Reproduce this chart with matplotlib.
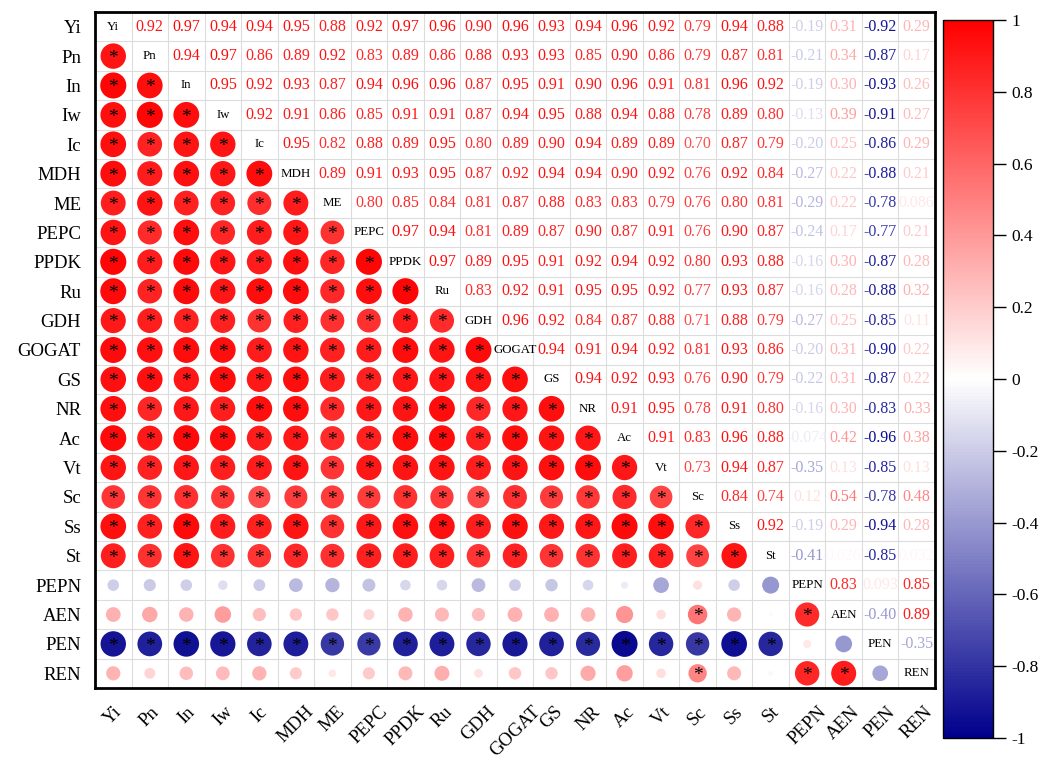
import numpy as np
import matplotlib
matplotlib.use("Agg")
import matplotlib.pyplot as plt
from matplotlib.colors import LinearSegmentedColormap, Normalize

plt.rcParams["font.family"] = ["Liberation Serif", "DejaVu Serif"]

variables = ["Yi", "Pn", "In", "Iw", "Ic", "MDH", "ME", "PEPC", "PPDK", "Ru", "GDH",
             "GOGAT", "GS", "NR", "Ac", "Vt", "Sc", "Ss", "St", "PEPN", "AEN", "PEN", "REN"]

# upper-triangle Pearson r, row i holds r(i, j) for j > i
r_Yi = [0.92, 0.97, 0.94, 0.94, 0.95, 0.88, 0.92, 0.97, 0.96, 0.90, 0.96, 0.93, 0.94, 0.96, 0.92, 0.79, 0.94, 0.88, -0.19, 0.31, -0.92, 0.29]
r_Pn = [0.94, 0.97, 0.86, 0.89, 0.92, 0.83, 0.89, 0.86, 0.88, 0.93, 0.93, 0.85, 0.90, 0.86, 0.79, 0.87, 0.81, -0.21, 0.34, -0.87, 0.17]
r_In = [0.95, 0.92, 0.93, 0.87, 0.94, 0.96, 0.96, 0.87, 0.95, 0.91, 0.90, 0.96, 0.91, 0.81, 0.96, 0.92, -0.19, 0.30, -0.93, 0.26]
r_Iw = [0.92, 0.91, 0.86, 0.85, 0.91, 0.91, 0.87, 0.94, 0.95, 0.88, 0.94, 0.88, 0.78, 0.89, 0.80, -0.13, 0.39, -0.91, 0.27]
r_Ic = [0.95, 0.82, 0.88, 0.89, 0.95, 0.80, 0.89, 0.90, 0.94, 0.89, 0.89, 0.70, 0.87, 0.79, -0.20, 0.25, -0.86, 0.29]
r_MDH = [0.89, 0.91, 0.93, 0.95, 0.87, 0.92, 0.94, 0.94, 0.90, 0.92, 0.76, 0.92, 0.84, -0.27, 0.22, -0.88, 0.21]
r_ME = [0.80, 0.85, 0.84, 0.81, 0.87, 0.88, 0.83, 0.83, 0.79, 0.76, 0.80, 0.81, -0.29, 0.22, -0.78, 0.086]
r_PEPC = [0.97, 0.94, 0.81, 0.89, 0.87, 0.90, 0.87, 0.91, 0.76, 0.90, 0.87, -0.24, 0.17, -0.77, 0.21]
r_PPDK = [0.97, 0.89, 0.95, 0.91, 0.92, 0.94, 0.92, 0.80, 0.93, 0.88, -0.16, 0.30, -0.87, 0.28]
r_Ru = [0.83, 0.92, 0.91, 0.95, 0.95, 0.92, 0.77, 0.93, 0.87, -0.16, 0.28, -0.88, 0.32]
r_GDH = [0.96, 0.92, 0.84, 0.87, 0.88, 0.71, 0.88, 0.79, -0.27, 0.25, -0.85, 0.11]
r_GOGAT = [0.94, 0.91, 0.94, 0.92, 0.81, 0.93, 0.86, -0.20, 0.31, -0.90, 0.22]
r_GS = [0.94, 0.92, 0.93, 0.76, 0.90, 0.79, -0.22, 0.31, -0.87, 0.22]
r_NR = [0.91, 0.95, 0.78, 0.91, 0.80, -0.16, 0.30, -0.83, 0.33]
r_Ac = [0.91, 0.83, 0.96, 0.88, -0.074, 0.42, -0.96, 0.38]
r_Vt = [0.73, 0.94, 0.87, -0.35, 0.13, -0.85, 0.13]
r_Sc = [0.84, 0.74, 0.12, 0.54, -0.78, 0.48]
r_Ss = [0.92, -0.19, 0.29, -0.94, 0.28]
r_St = [-0.41, 0.026, -0.85, 0.032]
r_PEPN = [0.83, 0.093, 0.85]
r_AEN = [-0.40, 0.89]
r_PEN = [-0.35]

upper_rows = [r_Yi, r_Pn, r_In, r_Iw, r_Ic, r_MDH, r_ME, r_PEPC, r_PPDK, r_Ru, r_GDH,
              r_GOGAT, r_GS, r_NR, r_Ac, r_Vt, r_Sc, r_Ss, r_St, r_PEPN, r_AEN, r_PEN]

R_CRIT = 0.444  # |r| above this is significant at p < 0.05

n = len(variables)
corr = np.eye(n)
for i, row in enumerate(upper_rows):
    for k, v in enumerate(row):
        j = i + 1 + k
        corr[i, j] = corr[j, i] = v

cmap = LinearSegmentedColormap.from_list("bwr_corr", ["#00008C", "#FFFFFF", "#FF0000"])
norm = Normalize(-1, 1)

fig = plt.figure(figsize=(10.57, 7.61), dpi=100)
ax = fig.add_axes([95 / 1057, 1 - 688 / 761, 840 / 1057, 676 / 761])
cax = fig.add_axes([943 / 1057, 1 - 738 / 761, 50 / 1057, 718 / 761])

# lower triangle: circles, area ~ |r|
ii, jj = np.tril_indices(n, -1)
vals = corr[ii, jj]
ax.scatter(jj, ii, s=364 * np.abs(vals), c=vals, cmap=cmap, norm=norm,
           linewidths=0, zorder=3)
for i, j, v in zip(ii, jj, vals):
    if abs(v) >= R_CRIT:
        ax.text(j, i + 0.08, "*", ha="center", va="center", fontsize=14,
                color="black", zorder=4)

# upper triangle: coefficients, diagonal: names
for i in range(n):
    ax.text(i, i, variables[i], ha="center", va="center", fontsize=9.3, zorder=4)
    for j in range(i + 1, n):
        v = corr[i, j]
        ax.text(j, i, f"{v:.2f}" if abs(v) >= 0.1 else f"{v:.2g}",
                ha="center", va="center", fontsize=11.5, color=cmap(norm(v)), zorder=4)

ax.set_xlim(-0.5, n - 0.5)
ax.set_ylim(n - 0.5, -0.5)
ax.set_xticks(range(n))
ax.set_yticks(range(n))
ax.set_xticklabels(variables, rotation=45, ha="center", va="top", fontsize=13.5)
ax.set_yticklabels(variables, fontsize=13.5)
ax.tick_params(axis="both", which="major", length=0)
ax.tick_params(axis="x", pad=11)
ax.tick_params(axis="y", pad=10)
ax.set_xticks(np.arange(-0.5, n, 1), minor=True)
ax.set_yticks(np.arange(-0.5, n, 1), minor=True)
ax.tick_params(which="minor", length=0)
ax.grid(which="minor", color="#dcdcdc", lw=0.8)
for sp in ax.spines.values():
    sp.set_linewidth(2)

sm = plt.cm.ScalarMappable(norm=norm, cmap=cmap)
cb = fig.colorbar(sm, cax=cax)
ticks = np.round(np.arange(-1, 1.01, 0.2), 1)
cb.set_ticks(ticks)
cb.set_ticklabels([f"{t:g}" if t != 0 else "0" for t in ticks])
cb.ax.tick_params(length=9, width=1, labelsize=12.5, pad=4)
cb.outline.set_linewidth(1)

fig.savefig("out.png", dpi=100)
